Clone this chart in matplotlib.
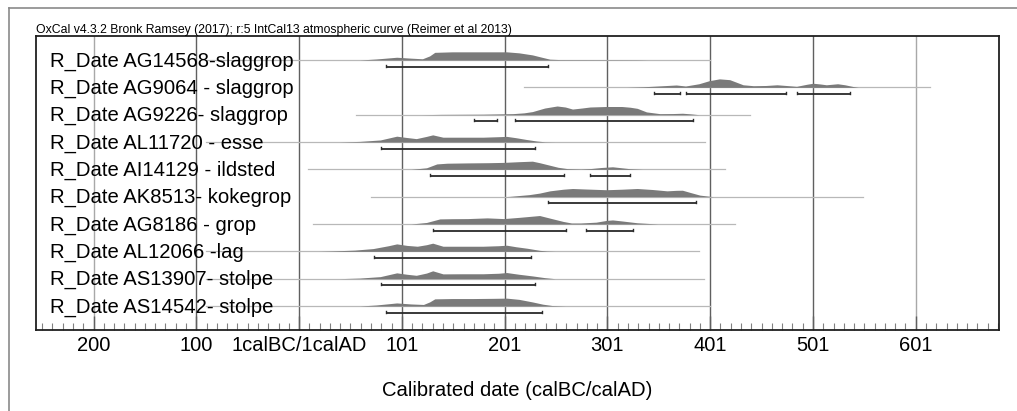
import numpy as np
import matplotlib.pyplot as plt
from matplotlib.lines import Line2D

plt.rcParams['font.family'] = ['Liberation Sans', 'DejaVu Sans']

# sample names, top to bottom
labels = [
    "R_Date AG14568-slaggrop",
    "R_Date AG9064 - slaggrop",
    "R_Date AG9226- slaggrop",
    "R_Date AL11720 - esse",
    "R_Date AI14129 - ildsted",
    "R_Date AK8513- kokegrop",
    "R_Date AG8186 - grop",
    "R_Date AL12066 -lag",
    "R_Date AS13907- stolpe",
    "R_Date AS14542- stolpe",
]

# calibrated distributions: year (astronomical, 1 = 1calAD) and relative probability
years_1 = [60, 76, 96, 110, 121, 128, 133, 150, 170, 190, 203, 215, 228, 238, 245, 255, 300, 330, 340]
prob_1  = [0, 1, 2.7, 1.8, 1.2, 4, 7.5, 8, 8, 8, 8, 7, 5, 2.5, 0.8, 0.4, 0.3, 0.2, 0]
years_2 = [320, 335, 350, 368, 377, 390, 400, 410, 420, 433, 443, 455, 466, 475, 485, 495, 501, 508, 514, 525, 532, 540, 545]
prob_2  = [0, 0.5, 1.3, 2.3, 1.3, 3.5, 6.5, 8.3, 7.5, 2.5, 1.6, 1.8, 2.5, 1.8, 1.0, 3, 4, 3.3, 2.5, 3.5, 2.5, 0.8, 0]
years_3 = [120, 140, 180, 209, 220, 228, 240, 252, 260, 267, 276, 284, 300, 315, 323, 330, 339, 352, 365, 374, 382, 390]
prob_3  = [0, 0.3, 0.5, 1, 1.8, 3, 6.5, 8.5, 7.5, 5.5, 6.5, 7.5, 8, 8, 7.3, 6.2, 2.7, 1, 1.1, 1.4, 0.8, 0]
years_4 = [40, 60, 80, 96, 105, 115, 125, 131, 141, 160, 180, 195, 203, 212, 222, 232, 240, 250]
prob_4  = [0, 0.6, 2, 5.7, 4.5, 3.3, 5.5, 7, 4.7, 4.7, 4.7, 5.2, 5.5, 4.2, 2.5, 1, 0.2, 0]
years_5 = [110, 125, 135, 145, 165, 185, 200, 215, 228, 235, 245, 253, 262, 275, 285, 295, 306, 315, 323, 335]
prob_5  = [0, 1.5, 5.3, 6, 6.3, 6.5, 6.8, 7.5, 8, 6.5, 4, 2, 0.7, 0.3, 0.8, 1.8, 2.5, 1.5, 0.6, 0]
years_6 = [200, 206, 225, 235, 245, 258, 267, 280, 300, 315, 330, 345, 359, 368, 374, 382, 391, 404]
prob_6  = [0, 0.3, 2, 3.5, 5.7, 7.3, 8, 7.5, 6.8, 7.3, 8, 7, 5.7, 6.2, 6.3, 4, 1.5, 0]
years_7 = [110, 125, 138, 150, 165, 184, 200, 215, 235, 248, 258, 266, 275, 290, 300, 306, 315, 330, 340, 350]
prob_7  = [0, 1.5, 5, 5.2, 5.3, 6, 5.3, 6.5, 8.3, 5, 2.5, 1, 1, 1.8, 3.5, 4, 3, 1.2, 0.6, 0]
years_8 = [20, 31, 55, 73, 88, 96, 106, 116, 125, 131, 141, 160, 180, 195, 203, 212, 223, 235, 242, 250]
prob_8  = [0, 0.3, 1.2, 2.7, 5.5, 7.3, 5.8, 5, 6.5, 8, 5, 5, 5, 5.5, 6, 4.5, 3, 1, 0.3, 0]
years_9 = [40, 60, 80, 96, 106, 115, 125, 131, 141, 160, 180, 195, 203, 215, 228, 240, 250]
prob_9  = [0, 0.6, 2, 5.7, 4.3, 3.3, 5.5, 7.7, 4.7, 4.8, 4.8, 5.3, 6, 4.3, 2.7, 1, 0]
years_10 = [60, 76, 96, 110, 122, 128, 133, 150, 170, 190, 203, 215, 228, 238, 247, 260]
prob_10  = [0, 1, 3, 2, 1.5, 4, 7, 7.3, 7.3, 7.5, 7.7, 6.5, 4, 1.8, 0.5, 0]

dist_years = [years_1, years_2, years_3, years_4, years_5, years_6, years_7, years_8, years_9, years_10]
dist_probs = [prob_1, prob_2, prob_3, prob_4, prob_5, prob_6, prob_7, prob_8, prob_9, prob_10]

# extent of the thin line under each distribution
line_start = [-90, 220, 56, -90, 10, 71, 15, -90, -90, -90]
line_end   = [401, 615, 440, 396, 415, 550, 425, 390, 395, 401]

# 95.4% ranges
ranges = [
    [(86, 243)],
    [(346, 372), (377, 475), (485, 537)],
    [(171, 194), (211, 384)],
    [(81, 231)],
    [(128, 259), (284, 323)],
    [(243, 387)],
    [(131, 261), (280, 326)],
    [(74, 227)],
    [(81, 231)],
    [(86, 237)],
]

tick_years  = [-199, -99, 1, 101, 201, 301, 401, 501, 601]
tick_labels = ["200", "100", "1calBC/1calAD", "101", "201", "301", "401", "501", "601"]

W, H = 1017, 411
fig = plt.figure(figsize=(W / 100, H / 100), dpi=100)
ax = fig.add_axes([36 / W, (H - 330) / H, (999 - 36) / W, (330 - 36) / H])

n = len(labels)
pad = 0.878
ax.set_xlim(-255, 682)
ax.set_ylim(n - 1 + pad, -pad)

# vertical grid lines
for i, t in enumerate(tick_years):
    col = '#a8a8a8' if t in (-199, 601) else '#606060'
    ax.axvline(t, color=col, lw=1.0, zorder=1)

scale = 0.31 / 8.3
for i in range(n):
    ax.plot([line_start[i], line_end[i]], [i, i], color='#b8b8b8', lw=0.9, zorder=2)
    yy = np.array(dist_years[i], dtype=float)
    pp = np.array(dist_probs[i], dtype=float) * scale
    ax.fill_between(yy, i, i - pp, color='#7a7a7a', lw=0, zorder=3)
    ybar = i + 0.24
    for a, b in ranges[i]:
        ax.plot([a, b], [ybar, ybar], color='#2a2a2a', lw=1.3, zorder=4, solid_capstyle='butt')
        ax.plot([a, a], [ybar, ybar - 0.07], color='#2a2a2a', lw=1.0, zorder=4)
        ax.plot([b, b], [ybar, ybar - 0.07], color='#2a2a2a', lw=1.0, zorder=4)
    ax.text(-241, i + 0.24, labels[i], fontsize=14.6, va='baseline', ha='left', zorder=5)

ax.set_yticks([])
ax.set_xticks(tick_years)
ax.set_xticklabels(tick_labels, fontsize=14.5)
ax.set_xticks(np.arange(-249, 682, 10), minor=True)
ax.tick_params(axis='x', which='major', direction='in', length=10, width=1, pad=4, color='#606060')
ax.tick_params(axis='x', which='minor', direction='in', length=5, width=0.8, color='#808080')
for s in ax.spines.values():
    s.set_color('#202020')
    s.set_linewidth(1.3)

ax.set_xlabel("Calibrated date (calBC/calAD)", fontsize=14.6, labelpad=19)
ax.set_title("OxCal v4.3.2 Bronk Ramsey (2017); r:5 IntCal13 atmospheric curve (Reimer et al 2013)",
             fontsize=8.8, loc='left', pad=1.5)

# page border
fig.add_artist(Line2D([9 / W, 1], [1 - 8 / H, 1 - 8 / H], color='#8a8a8a', lw=1.2))
fig.add_artist(Line2D([9 / W, 9 / W], [0, 1 - 8 / H], color='#8a8a8a', lw=1.2))

fig.savefig("out.png", dpi=100)
